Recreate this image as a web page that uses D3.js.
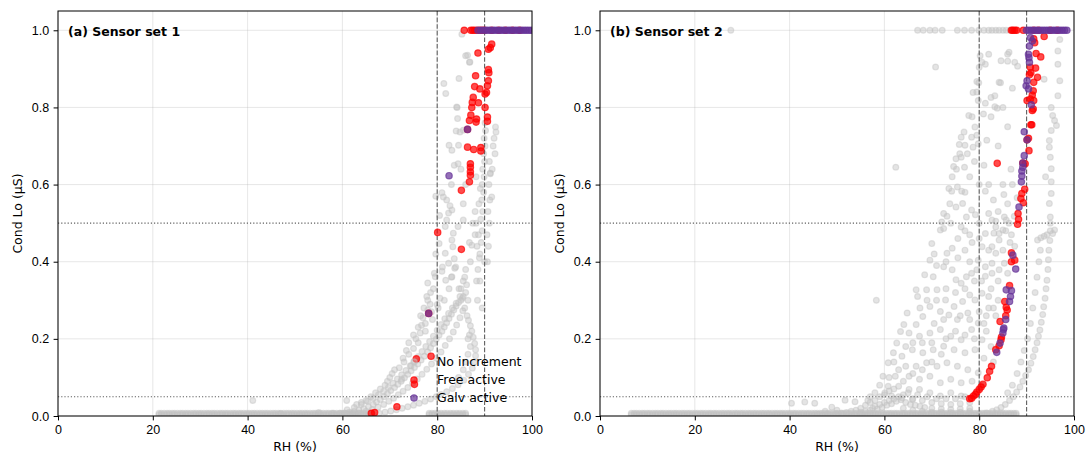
<!DOCTYPE html>
<html>
<head>
<meta charset="utf-8">
<script src="https://cdn.jsdelivr.net/npm/d3@7"></script>
<style>
  body { margin: 0; background: #fff; }
  svg { display: block; font-family: "DejaVu Sans", sans-serif; }
  .tick text { font-size: 12.5px; fill: #000; }
  .tick line, .domain { stroke: #000; }
</style>
</head>
<body>
<div id="chart"></div>
<script>
// ---- data (RH %, Cond Lo µS) ----
const xTicks = [0, 20, 40, 60, 80, 100];
const yTicks = [0, 0.2, 0.4, 0.6, 0.8, 1.0];
const rhLines = [80, 90];
const condLines = [0.05, 0.5];
const legendLabels = ["No increment", "Free active", "Galv active"];

// sensor set 1
const baseA = [21.3,21.8,22.4,23,23.5,24.1,24.6,25.2,25.8,26.3,26.9,27.4,28,28.6,29.1,29.7,30.2,30.8,31.4,31.9,32.5,33,33.6,34.2,34.7,35.3,35.8,36.4,37,37.5,38.1,38.6,39.2,39.8,40.3,40.9,41.4,42,42.6,43.1,43.7,44.2,44.8,45.4,45.9,46.5,47,47.6,48.2,48.7,49.3,49.8,50.4,51,51.5,52.1,52.6,53.2,53.8,54.3,54.9,55.4,56,56.6,57.1,57.7,58.2,58.8,59.4,59.9,60.5,61,61.6,62.2,62.7,63.3,63.8,64.4,65,65.5,66,78.3,78.9,79.5,80.2,80.8,81.5,82.1,82.8,83.4,84.1,84.7,85.4,86];
const grayA = [
  [41.1,0.04],[60.9,0.04],[47,0.006],[55,0.009],[58,0.007],
  [59.5,0.007],[60.5,0.008],[61.5,0.01],[62.5,0.012],[63.5,0.015],[64.5,0.019],[65.5,0.024],[66.5,0.03],[67.2,0.036],[68,0.043],[68.8,0.05],[69.5,0.058],[70.2,0.066],[71,0.074],[71.7,0.082],[72.4,0.09],[73.1,0.099],[73.8,0.108],[74.5,0.117],[75.2,0.126],[75.9,0.135],[76.6,0.145],[77.3,0.155],[78,0.166],[78.6,0.177],[79.2,0.188],[79.8,0.199],[80.4,0.21],[81,0.22],[81.5,0.231],[82,0.242],[82.5,0.253],[83,0.264],[83.5,0.275],[84,0.285],[84.5,0.294],[85,0.3],
  [62,0.006],[63.5,0.008],[65,0.012],[66.3,0.017],[67.5,0.023],[68.7,0.03],[69.8,0.038],[70.8,0.046],[71.8,0.055],[72.8,0.064],[73.8,0.074],[74.8,0.085],[75.8,0.096],[76.8,0.108],[77.8,0.121],[78.8,0.135],[79.8,0.15],[80.8,0.166],[81.7,0.183],[82.6,0.2],[83.4,0.218],[84.1,0.236],[84.8,0.255],[85.4,0.273],
  [61,0.016],[62.5,0.022],[64,0.03],[65.3,0.038],[66.5,0.046],[67.6,0.055],[68.7,0.064],[69.7,0.074],[70.7,0.085],[71.6,0.096],[72.5,0.107],[73.4,0.118],[74.3,0.13],[75.2,0.142],[76,0.154],[76.8,0.167],[77.6,0.18],[78.4,0.193],[79.2,0.207],[80,0.222],[80.8,0.237],[81.6,0.252],[82.4,0.266],[83.2,0.28],[84,0.292],
  [66.5,0.004],[67.8,0.007],[69,0.01],[70.2,0.013],[71.4,0.016],[72.6,0.02],[73.8,0.024],[75,0.028],[76.2,0.033],[77.4,0.038],[78.6,0.044],[79.8,0.05],[80.8,0.056],[82,0.063],[83.2,0.071],[84.4,0.081],[85.6,0.093],[86.6,0.108],[87.4,0.124],[87.9,0.14],[88.1,0.156],[88.1,0.172],[87.9,0.188],[87.6,0.204],[87.3,0.22],[87,0.234],[86.6,0.248],[86.3,0.26],
  [66,0.05],[68,0.07],[69.5,0.09],[70.5,0.11],[72,0.125],[73,0.14],[74,0.16],[75,0.175],[75.5,0.2],[76.4,0.215],[76.7,0.235],[77,0.255],[77.5,0.22],[78,0.275],[78,0.3],[78.6,0.32],[78,0.345],[79.4,0.37],[79.7,0.42],[80.4,0.447],[81.1,0.386],[81.8,0.352],[83.9,0.386],[83.6,0.408],[84.6,0.33],[85.3,0.305],[87,0.4],[87.3,0.443],[88,0.47],[72.5,0.095],[74.5,0.13],[79,0.25],[80.2,0.28],[81.5,0.3],[82.5,0.33],[83,0.36],[85.5,0.35],[86,0.38],
  [74,0.19],[75,0.21],[76,0.23],[76.5,0.26],[77.2,0.28],[77.8,0.31],[78.5,0.29],[79.2,0.33],[76,0.19],[77.5,0.24],[78.8,0.27],[73.5,0.17],[72.8,0.15],[71,0.12],[70,0.1],[69,0.08],[67,0.06],[65,0.04],[64,0.035],[63,0.03],
  [85.5,0.31],[86,0.32],[86.2,0.34],[86.5,0.3],[85.8,0.28],[84.8,0.31],
  [88.3,0.35],[88.6,0.38],[88.9,0.41],[88.4,0.44],[88.7,0.47],[88.2,0.5],
  [86,0.14],[86.5,0.16],[87,0.18],[86.8,0.21],[85.5,0.12],[84.5,0.1],
  [85.2,0.99],[86.4,0.935],[86.9,0.918],[84.6,0.875],[81.4,0.862],[81.8,0.836],[84.1,0.801],[84.3,0.771],[85.5,0.741],[84.8,0.736],[84,0.739],[82.5,0.702],[83.1,0.689],[84.5,0.702],[83.6,0.65],[84.4,0.654],[81,0.579],[81.3,0.568],[82,0.56],[82.7,0.545],[83.1,0.534],[82.4,0.526],[82,0.508],[81.7,0.491],[83.4,0.474],[84.4,0.491],[85.5,0.508],[83.1,0.456],[83.3,0.439],[81.7,0.422],[82.4,0.396],[83.7,0.383],[83.1,0.361],[81,0.375],[79.6,0.361],[80.6,0.305],[80,0.289],[86,0.934],[86.8,0.917],[84.2,0.8],
  [89,0.42],[89.3,0.45],[89.5,0.48],[89.2,0.51],[89.6,0.53],[89.4,0.56],[89.8,0.58],[89.5,0.6],[89.9,0.62],[89.6,0.64],[90,0.66],[89.8,0.68],[90.1,0.7],[89.9,0.72],[90.2,0.74],[90.1,0.76],[89.1,0.59],[88.8,0.55],
  [90.6,0.4],[90.8,0.44],[90.5,0.47],[91,0.5],[90.7,0.53],[91.1,0.56],[90.9,0.6],[91.2,0.63],[91,0.66],
  [91.8,0.7],[92,0.72],[92.3,0.749],[92.4,0.736],[92.2,0.68],[91.6,0.64],[91.5,0.568],[91.2,0.628],
  [86.5,0.2],[86.8,0.45],[87.5,0.5],[88,0.53],[85.5,0.55],[86,0.6],[88.2,0.62],[88.5,0.3],[89,0.35],[89.5,0.28],[90,0.4],[85,0.64],[83,0.6],[80.5,0.52],[79.7,0.57],[85,0.33],[85.8,0.36]
];
const redTopA = [85.7,87.1,87.5,87.9,88.4,89,89.5,90,91.5,93,94.4,95.9,97.4];
const galvTopA = [88.6,89.2,89.8,90.3,90.8,91.3,91.8,92.3,92.8,93.3,93.8,94.3,94.8,95.3,95.8,96.3,96.8,97.3,97.8,98.3,98.8,99.3,99.8];
const redA = [[91.5,0.964],[91.2,0.955],[90.8,0.951],[88.6,0.941],[90.8,0.898],[90.9,0.89],[90.8,0.869],[90.6,0.856],[90.4,0.839],[90.1,0.835],[88.1,0.882],[87.9,0.854],[89,0.848],[87.6,0.826],[87.4,0.813],[87.3,0.8],[88.7,0.812],[90.1,0.8],[90.6,0.775],[90.6,0.764],[87.1,0.78],[86.8,0.766],[88.3,0.77],[88.2,0.762],[86.4,0.743],[86.4,0.697],[87.7,0.691],[89.2,0.696],[89.2,0.687],[87,0.654],[87,0.645],[87,0.633],[87,0.624],[86.8,0.607],[85.1,0.585],[80.1,0.476],[85.1,0.432],[78.2,0.266],[78.7,0.155],[75.6,0.148],[75.2,0.082],[71.5,0.024],[66.1,0.007],[66.8,0.009]];
const galvA = [[86.4,0.743],[82.5,0.623],[78.2,0.266]];

// sensor set 2
const baseB = [6.6,7.2,7.7,8.3,8.9,9.4,10,10.5,11.1,11.7,12.2,12.8,13.3,13.9,14.5,15,15.6,16.1,16.7,17.3,17.8,18.4,18.9,19.5,20.1,20.6,21.2,21.7,22.3,22.9,23.4,24,24.5,25.1,25.7,26.2,26.8,27.3,27.9,28.5,29,29.6,30.1,30.7,31.3,31.8,32.4,32.9,33.5,34.1,34.6,35.2,35.7,36.3,36.9,37.4,38,38.5,39.1,39.7,40.2,40.8,41.3,41.9,42.5,43,43.6,44.1,44.7,45.3,45.8,46.4,46.9,47.5,48.1,48.6,49.2,49.7,50.3,50.9,51.4,52,52.5,53.1,53.7,54.2,54.8,55.3,55.9,56.5,57,57.6,58.1,58.7,59.3,59.8,60.4,61,61.5,62.1,62.6,63.2,63.8,64.3,64.9,65.4,66,66.6,67.1,67.7,68.2,68.8,69.4,69.9,70.5,71,71.6,72.2,72.7,73.3,73.8,74.4,75,75.5,76.1,76.6,77.2,77.8,78.3,78.9,79.4,80,80.6,81.1,81.7,82.2,82.8,83.4,83.9,84.5,85,85.6,86.2,86.7,87.3,87.8];
const grayTopB = [27.6,67,68.2,69.6,70.7,72.2,75.4,76.9,78.4,79.9,81,82,82.7,83.5,84.2,85,85.7,86.5,87.1];
const grayB = [
  [40.4,0.033],[43.2,0.036],[45.3,0.033],[48.9,0.023],[51.7,0.041],[53.8,0.037],[47.5,0.012],[50,0.015],
  [70.8,0.905],[58.3,0.3],[62.4,0.645],
  [80.2,0.934],[80.6,0.917],[80,0.904],[79.5,0.867],[78.7,0.839],[79.8,0.818],[77.8,0.779],[80.9,0.783],[84.2,0.865],[83.3,0.802],[82.5,0.826],[84.6,0.921],[86,0.938],[87.5,0.917],[81.3,0.912],[82,0.938],[79.9,0.864],[79.5,0.84],[81.3,0.811],[78.5,0.776],[82.5,0.776],[83.8,0.798],[86.3,0.943],[88.1,0.907],[86,0.92],[84.5,0.864],[83.3,0.83],
  [79.5,0.728],[77,0.702],[75.9,0.68],[81.6,0.715],[75.2,0.64],[86.7,0.64],[74.2,0.583],[76.3,0.583],[81.3,0.583],[85.2,0.574],[88,0.566],[73.2,0.518],[79.2,0.522],[83.5,0.505],[86.3,0.5],[87.4,0.518],[85.6,0.48],[83.1,0.474],
  [76.8,0.736],[76.2,0.723],[75.8,0.704],[75.1,0.667],[74.6,0.647],[74.3,0.62],[73.6,0.59],[72.5,0.525],[72.1,0.503],[71.8,0.482],[70,0.447],[69.6,0.404],[68.5,0.366],[66.7,0.327],[67,0.31],[64.8,0.267],[64.1,0.237],[63.4,0.219],[62.6,0.189],[61.9,0.164],[60.8,0.138],[59.7,0.103],
  [79.1,0.749],[78.4,0.723],[78.7,0.697],[79.8,0.706],[76.2,0.671],[76.9,0.645],[75.4,0.594],[76.5,0.551],[75.1,0.542],[77.3,0.516],[76.2,0.49],[72.5,0.486],
  [78.4,0.534],[82,0.525],[82.7,0.508],[83.5,0.49],[84.2,0.473],[85,0.482],[85.7,0.508],[85.3,0.516],
  [81.3,0.473],[80.6,0.439],[82.7,0.439],[83.5,0.422],[84.2,0.456],[85,0.43],[82.7,0.396],[81.3,0.387],[79.8,0.404],[79.5,0.379],[78.4,0.37],[81.3,0.362],[82.7,0.37],[84.2,0.379],[85.3,0.396],[86,0.37],[86.5,0.45],[87.5,0.44],[86.8,0.47],
  [74.3,0.435],[73.2,0.422],[72.5,0.387],[74.3,0.379],[75.1,0.353],[76.2,0.344],[77.3,0.361],[70.3,0.361],[68.9,0.327],[71.1,0.327],[72.9,0.301],[74.7,0.284],[76.5,0.297],[78,0.314],[79.1,0.301],[80.6,0.318],[82,0.31],[77.6,0.267],[75.4,0.25],[73.6,0.262],[71.8,0.271],[69.6,0.284],[68.1,0.258],[66.7,0.237],[65.2,0.215],[67.4,0.207],[69.6,0.215],[71.8,0.224],[74,0.207],[76.2,0.198],[78.4,0.224],[79.8,0.241],[80.6,0.198],[79.1,0.172],[77,0.164],[74.7,0.172],[72.5,0.181],[70.3,0.172],[68.1,0.164],[65.9,0.172],[63.7,0.155],[64.5,0.129],[66.7,0.129],[68.9,0.138],[71.1,0.129],[73.2,0.138],[75.4,0.129],[77.6,0.12],[79.8,0.112],[62.3,0.103],[65.2,0.103],[67.4,0.095],[69.6,0.103],[71.8,0.086],[74,0.095],[76.2,0.086],[60.8,0.077],[63,0.077],[65.2,0.069],[67.4,0.069],[69.6,0.06],[71.8,0.052],[74,0.06],[76.2,0.052],[60.1,0.06],[61.5,0.052],[63.7,0.047],[65.9,0.043],
  [81.5,0.26],[83,0.28],[84,0.3],[82.5,0.33],[80.5,0.35],[78,0.4],[77,0.43],[75.5,0.46],[78,0.47],[80,0.5],[81.5,0.22],[82.5,0.18],[81,0.15],[83,0.14],[78.5,0.09],[80.5,0.08],
  [63,0.12],[64,0.09],[66,0.11],[68,0.12],[70,0.14],[72,0.16],[73,0.2],[75,0.22],[77,0.21],[79,0.2],[70.5,0.24],[72.5,0.25],[67.5,0.28],[69,0.3],[71,0.3],[73,0.33],[75,0.32],[77,0.33],[79,0.35],[71,0.39],[73,0.4],[75.5,0.41],[70.5,0.42],[66,0.19],[64.5,0.18],[62,0.14],[61,0.1],[59,0.08],[58,0.06],[57,0.05],[56.5,0.04],[68,0.19],[70,0.19],[76,0.26],[78,0.25],[80,0.27],[82,0.28],[81,0.24],[83.5,0.26],[84,0.35],[82,0.43],[80,0.46],[78.5,0.45],[77,0.48],[74,0.5],[73.8,0.55],[77,0.58],[78,0.62],[79,0.66],[77.5,0.68],[80,0.6],[81,0.65],[82,0.6],[83,0.56],[84,0.53],[85,0.6],[86,0.55],[87,0.6],[86,0.75],[84,0.7],[85,0.8],[87,0.85],
  [55,0.01],[56,0.012],[57,0.015],[57.5,0.02],[58,0.025],[58.5,0.018],[59,0.03],[59.5,0.022],[60,0.035],[60.5,0.028],[61,0.04],[61.5,0.032],[62,0.045],[62.5,0.038],[63,0.05],[63.5,0.042],[64,0.055],[58,0.04],[59,0.05],[60,0.055],[61,0.065],[62,0.07],[57,0.035],[56,0.028],[55,0.02],[54,0.015],[53,0.012],[52,0.009],[51,0.007],[50,0.006],[48,0.005],[46,0.004],
  [64.5,0.035],[65.5,0.03],[66.5,0.028],[67.5,0.025],[68.5,0.022],[70,0.02],[72,0.018],[74,0.017],[76,0.018],[78,0.02],[64,0.02],[66,0.015],[68,0.012],[70,0.01],[72,0.01],[74,0.009],[76,0.01],[78,0.012],[66,0.045],[68,0.04],[70,0.035],[72,0.032],[74,0.03],[76,0.032],[78,0.035],[65,0.06],[67,0.055],[69,0.05],[71,0.045],[73,0.045],[75,0.045],[77,0.05],
  [80,0.004],[81.5,0.008],[82.8,0.012],[83.7,0.016],[84.6,0.022],[85.5,0.03],[86.4,0.04],[87.2,0.05],[87.9,0.062],[88.6,0.075],[89.2,0.09],[89.8,0.105],[90.4,0.12],[90.9,0.137],[91.4,0.154],[91.8,0.172],[92.2,0.19],[92.5,0.207],[92.8,0.223],[93.1,0.243],[93.4,0.263],[93.6,0.283],[93.9,0.305],[94.1,0.33],[94.3,0.352],[94.5,0.38],[94.6,0.405],[94.7,0.43],[94.9,0.455],[95,0.48],
  [86,0.06],[87,0.08],[88,0.11],[88.8,0.14],[89.5,0.17],[90.2,0.2],[90.8,0.24],[91.3,0.28],[91.8,0.32],[92.2,0.36],[92.6,0.4],[92.9,0.43],
  [92.3,0.456],[93,0.462],[93.7,0.466],[94.3,0.47],[95.5,0.473],[95.9,0.482],
  [96.6,0.946],[97,0.869],[96.6,0.83],[95.2,0.8],[95.5,0.779],[95.9,0.766],[96.3,0.753],[95.2,0.74],[94.8,0.714],[94.8,0.697],[95,0.671],[95.2,0.641],[95.2,0.607],[95.2,0.577],[94.8,0.551],[95,0.516],[97,0.976],[96.6,0.912],[93.7,0.873],[94,0.62],[95,0.5]
];
const redTopB = [86.8,87.1,87.5,87.9,89.3,91.5,92.5,95,96.5];
const galvTopB = [90,90.5,91,91.5,92,92.5,93,93.5,94,94.5,95,95.5,96,96.5,97,97.5,98,98.5];
const redB = [[93.7,0.984],[91.5,0.978],[91.7,0.968],[92,0.94],[92.98,0.931],[90.8,0.904],[91.9,0.902],[90.9,0.89],[90.6,0.885],[92.3,0.878],[91.5,0.865],[91.4,0.843],[91.2,0.832],[90.1,0.818],[90.8,0.822],[91.5,0.818],[91.4,0.796],[91.2,0.792],[90.9,0.755],[91.1,0.755],[90.4,0.72],[90.5,0.688],[89.7,0.654],[83.8,0.655],[89.6,0.588],[89,0.577],[88.8,0.564],[89.3,0.553],[88.2,0.525],[88.3,0.51],[88.1,0.497],[86.8,0.423],[86.8,0.4],[87.5,0.404],[86.4,0.338],[85.4,0.297],[85.7,0.282],[85.9,0.275],[85.6,0.26],[84.4,0.245],[84.7,0.205],[84.6,0.198],[84.2,0.182],[83.5,0.172],[82.6,0.129],[82.2,0.116],[81.7,0.099],[80.8,0.082],[80.4,0.075],[80,0.069],[79.5,0.062],[79.2,0.056],[78.8,0.052],[78.4,0.046],[78,0.045],[90.1,0.716],[89.2,0.656]];
const galvB = [[90.8,0.981],[91.2,0.972],[90.6,0.959],[90.4,0.938],[90.5,0.929],[90.6,0.917],[90.1,0.869],[89.9,0.856],[90.4,0.848],[91,0.807],[89.5,0.737],[90.1,0.716],[89.5,0.675],[89.2,0.656],[89.2,0.645],[89,0.635],[89,0.622],[88.9,0.607],[88.4,0.542],[87.1,0.417],[87.7,0.381],[85.7,0.327],[86.8,0.325],[86.6,0.31],[86.4,0.297],[85.6,0.25],[85.2,0.228],[85.1,0.224],[85,0.215],[84.4,0.189],[83.7,0.165]];

// ---- layout ----
const width = 1086, height = 454;
const plotW = 474, plotTop = 11, plotBottom = 416;
const plotH = plotBottom - plotTop;
const grayColor = "#c4c4c4", redColor = "#ff0000", galvColor = "#663399";

const svg = d3.select("#chart").append("svg")
  .attr("width", width)
  .attr("height", height);

const panels = [
  { left: 58, title: "(a) Sensor set 1", id: "a", base: baseA, gray: grayA, grayTop: [],
    red: redA, redTop: redTopA, galv: galvA, galvTop: galvTopA, legend: true },
  { left: 600, title: "(b) Sensor set 2", id: "b", base: baseB, gray: grayB, grayTop: grayTopB,
    red: redB, redTop: redTopB, galv: galvB, galvTop: galvTopB, legend: false }
];

panels.forEach(p => drawPanel(p));

function drawPanel(p) {
  const x = d3.scaleLinear().domain([0, 100]).range([0, plotW]);
  const y = d3.scaleLinear().domain([0, 1.05]).range([plotH, 0]);

  const g = svg.append("g").attr("transform", `translate(${p.left},${plotTop})`);

  g.append("clipPath").attr("id", "clip-" + p.id)
    .append("rect").attr("width", plotW).attr("height", plotH);

  // grid
  g.append("g").selectAll("line").data(xTicks).join("line")
    .attr("x1", d => x(d)).attr("x2", d => x(d))
    .attr("y1", 0).attr("y2", plotH)
    .attr("stroke", "#b0b0b0").attr("stroke-opacity", 0.3).attr("stroke-width", 1);
  g.append("g").selectAll("line").data(yTicks).join("line")
    .attr("x1", 0).attr("x2", plotW)
    .attr("y1", d => y(d)).attr("y2", d => y(d))
    .attr("stroke", "#b0b0b0").attr("stroke-opacity", 0.3).attr("stroke-width", 1);

  const pts = g.append("g").attr("clip-path", `url(#clip-${p.id})`);

  // baseline band drawn as two rows of the same typed RH readings
  const grayPts = p.base.map(v => [v, 0.003])
    .concat(p.base.map(v => [v, 0.007]))
    .concat(p.grayTop.map(v => [v, 1.0]))
    .concat(p.gray);

  function dots(data, color, alpha, r) {
    pts.append("g").selectAll("circle").data(data).join("circle")
      .attr("cx", d => x(d[0]))
      .attr("cy", d => y(d[1]))
      .attr("r", r)
      .attr("fill", color).attr("fill-opacity", alpha)
      .attr("stroke", color).attr("stroke-opacity", alpha)
      .attr("stroke-width", 1.2);
  }

  dots(grayPts, grayColor, 0.45, 2.9);

  // reference lines
  pts.append("g").selectAll("line").data(rhLines).join("line")
    .attr("x1", d => x(d)).attr("x2", d => x(d))
    .attr("y1", 0).attr("y2", plotH)
    .attr("stroke", "#606060").attr("stroke-width", 1.1)
    .attr("stroke-dasharray", "4.6,2");
  pts.append("g").selectAll("line").data(condLines).join("line")
    .attr("x1", 0).attr("x2", plotW)
    .attr("y1", d => y(d)).attr("y2", d => y(d))
    .attr("stroke", "#606060").attr("stroke-width", 1.1)
    .attr("stroke-dasharray", "1.2,2");

  dots(p.redTop.map(v => [v, 1.0]).concat(p.red), redColor, 0.7, 3.2);
  dots(p.galvTop.map(v => [v, 1.0]).concat(p.galv), galvColor, 0.7, 3.2);

  // axes
  const xAxis = g.append("g").attr("transform", `translate(0,${plotH})`)
    .call(d3.axisBottom(x).tickValues(xTicks).tickFormat(d3.format("d")).tickSize(4.4).tickPadding(4.4));
  const yAxis = g.append("g")
    .call(d3.axisLeft(y).tickValues(yTicks).tickFormat(d3.format(".1f")).tickSize(4.4).tickPadding(4.4));
  [xAxis, yAxis].forEach(a => {
    a.select(".domain").remove();
    a.selectAll(".tick line").attr("stroke-width", 1);
  });

  // frame
  g.append("rect").attr("width", plotW).attr("height", plotH)
    .attr("fill", "none").attr("stroke", "#000").attr("stroke-width", 1);

  // labels
  g.append("text").attr("x", 10).attr("y", 25)
    .attr("font-size", 12.5).attr("font-weight", "bold")
    .text(p.title);
  g.append("text").attr("x", plotW / 2).attr("y", 451 - plotTop)
    .attr("text-anchor", "middle").attr("font-size", 12.5)
    .text("RH (%)");
  g.append("text")
    .attr("transform", `translate(-40,${plotH / 2}) rotate(-90)`)
    .attr("text-anchor", "middle").attr("dy", "0.35em").attr("font-size", 12.5)
    .text("Cond Lo (μS)");

  if (p.legend) {
    const lg = g.append("g").attr("transform", `translate(${plotW - 95},${plotH - 54})`);
    const colors = [grayColor, redColor, galvColor];
    const alphas = [0.45, 0.7, 0.7];
    legendLabels.forEach((t, i) => {
      lg.append("circle").attr("cx", -23).attr("cy", i * 18).attr("r", 3.2)
        .attr("fill", colors[i]).attr("fill-opacity", alphas[i])
        .attr("stroke", colors[i]).attr("stroke-opacity", alphas[i]).attr("stroke-width", 1.2);
      lg.append("text").attr("x", 0).attr("y", i * 18).attr("dy", "0.35em")
        .attr("font-size", 12.5).text(t);
    });
  }
}
</script>
</body>
</html>
